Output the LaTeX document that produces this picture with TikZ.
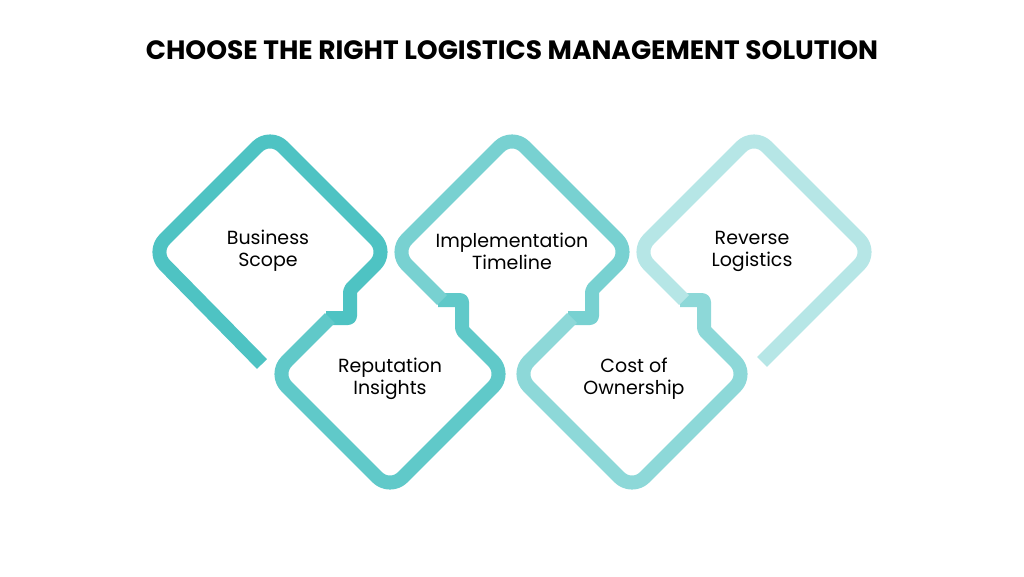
\documentclass[tikz,border=0pt]{standalone}
\usepackage{fontspec}
\setmainfont{Poppins}
\definecolor{ca}{HTML}{4EC3C3}
\definecolor{cb}{HTML}{60C9C9}
\definecolor{cc}{HTML}{78D1D1}
\definecolor{cd}{HTML}{8DD8D8}
\definecolor{ce}{HTML}{B6E6E6}
\tikzset{band/.style={line width=14pt,line join=round,rounded corners=18pt},
lbl/.style={font=\fontsize{19}{22}\selectfont,align=center,text=black}}
\begin{document}
\begin{tikzpicture}[x=1pt,y=-1pt]
\useasboundingbox (0,0) rectangle (1024,576);
\node[font=\bfseries\fontsize{26.5}{30}\selectfont] (title) at (512,50) {CHOOSE THE RIGHT LOGISTICS MANAGEMENT SOLUTION};
\draw[band,ca] (262,364) -- (152,252) -- (270,134) -- (388,252) [rounded corners=2pt] -- (350,290) -- (350,318) -- (326,318);
\draw[band,cb] (330,318) -- (274,374) -- (390,490) -- (506,374) [rounded corners=2pt] -- (462,330) -- (462,300) -- (438,300);
\draw[band,cc] (442,300) -- (394,252) -- (512,134) -- (630,252) [rounded corners=2pt] -- (592,290) -- (592,318) -- (568,318);
\draw[band,cd] (572,318) -- (516,374) -- (632,490) -- (748,374) [rounded corners=2pt] -- (704,330) -- (704,300) -- (680,300);
\draw[band,ce] (684,300) -- (636,252) -- (754,134) -- (872,252) -- (762,362);
\node[lbl] (l1) at (268,251) {Business\\Scope};
\node[lbl] (l2) at (390,379) {Reputation\\Insights};
\node[lbl] (l3) at (512,251) {Implementation\\Timeline};
\node[lbl] (l4) at (634,379) {Cost of\\Ownership};
\node[lbl] (l5) at (752,251) {Reverse\\Logistics};
\end{tikzpicture}
\end{document}
